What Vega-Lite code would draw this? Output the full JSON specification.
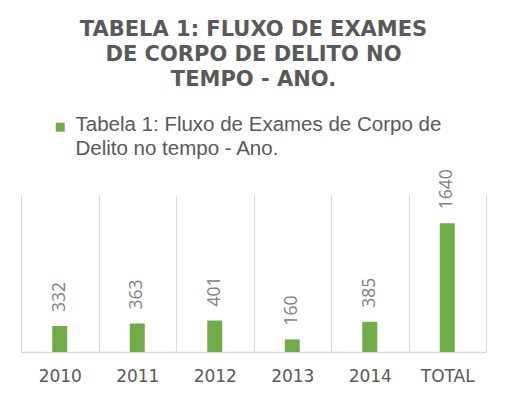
{
  "$schema": "https://vega.github.io/schema/vega-lite/v6.json",
  "width": 465,
  "height": 157,
  "autosize": {"type": "none"},
  "padding": {"left": 21, "top": 195, "right": 23, "bottom": 46},
  "background": "#ffffff",
  "title": {
    "text": ["TABELA 1: FLUXO DE EXAMES", "DE CORPO DE DELITO NO", "TEMPO - ANO."],
    "anchor": "middle",
    "font": "DejaVu Sans",
    "fontWeight": "bold",
    "fontSize": 21,
    "lineHeight": 25,
    "color": "#595959",
    "offset": 31
  },
  "data": {
    "values": [
      {"ano": "2010", "valor": 332, "serie": "Tabela 1: Fluxo de Exames de Corpo de Delito no tempo - Ano."},
      {"ano": "2011", "valor": 363, "serie": "Tabela 1: Fluxo de Exames de Corpo de Delito no tempo - Ano."},
      {"ano": "2012", "valor": 401, "serie": "Tabela 1: Fluxo de Exames de Corpo de Delito no tempo - Ano."},
      {"ano": "2013", "valor": 160, "serie": "Tabela 1: Fluxo de Exames de Corpo de Delito no tempo - Ano."},
      {"ano": "2014", "valor": 385, "serie": "Tabela 1: Fluxo de Exames de Corpo de Delito no tempo - Ano."},
      {"ano": "TOTAL", "valor": 1640, "serie": "Tabela 1: Fluxo de Exames de Corpo de Delito no tempo - Ano."}
    ]
  },
  "encoding": {
    "x": {
      "field": "ano",
      "type": "nominal",
      "sort": null,
      "scale": {"paddingInner": 0, "paddingOuter": 0},
      "axis": {
        "title": null,
        "labelAngle": 0,
        "labelFont": "DejaVu Sans",
        "labelFontSize": 17,
        "labelColor": "#595959",
        "labelPadding": 16,
        "ticks": false,
        "tickBand": "extent",
        "grid": true,
        "gridColor": "#d9d9d9",
        "gridWidth": 1,
        "domainColor": "#d9d9d9",
        "domainWidth": 1.5
      }
    },
    "y": {
      "field": "valor",
      "type": "quantitative",
      "scale": {"domain": [0, 2000]},
      "axis": null
    }
  },
  "layer": [
    {
      "mark": {"type": "bar", "size": 15},
      "encoding": {
        "color": {
          "field": "serie",
          "type": "nominal",
          "scale": {"range": ["#70AD47"]},
          "legend": {
            "title": null,
            "orient": "none",
            "legendX": 29,
            "legendY": -74,
            "padding": 0,
            "symbolType": "M-1,-1.9H1V0.1H-1Z",
            "symbolSize": 81,
            "symbolStrokeWidth": 0,
            "labelFont": "Liberation Sans",
            "labelFontSize": 20.5,
            "labelColor": "#595959",
            "labelLimit": 600,
            "labelOffset": 5,
            "labelBaseline": "alphabetic",
            "labelExpr": "[substring(datum.label, 0, 37), substring(datum.label, 38)]"
          }
        }
      }
    },
    {
      "mark": {
        "type": "text",
        "angle": 270,
        "align": "left",
        "baseline": "middle",
        "dx": 14,
        "font": "Open Sans",
        "fontSize": 17.5,
        "color": "#7f7f7f"
      },
      "encoding": {
        "text": {"field": "valor", "type": "quantitative"}
      }
    }
  ],
  "config": {
    "view": {"stroke": null},
    "style": {"guide-label": {"lineHeight": 23.5}}
  }
}
